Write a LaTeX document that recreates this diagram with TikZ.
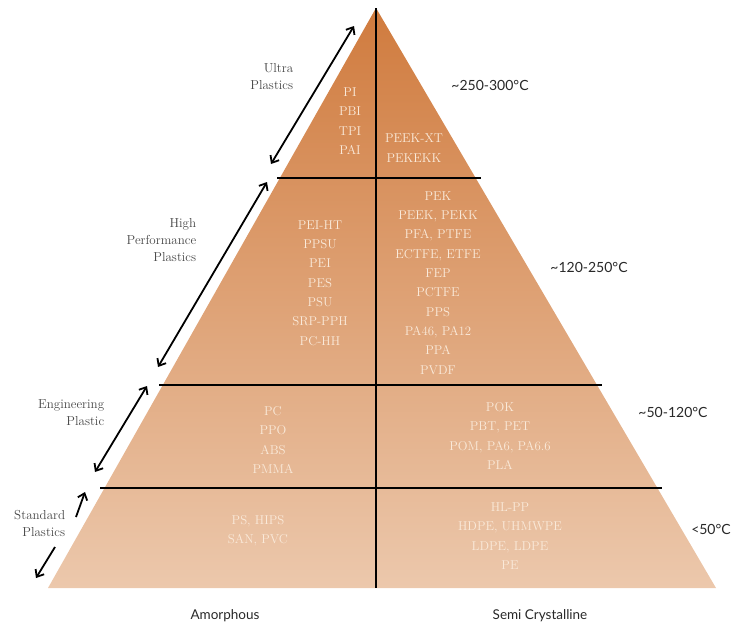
\documentclass[tikz,border=0pt]{standalone}
\usepackage{fontspec}
\newfontfamily\latofont{Lato}
\usepackage{tikz}
\usetikzlibrary{arrows.meta}

\definecolor{pyrtop}{RGB}{208,123,62}
\definecolor{pyrbot}{RGB}{236,200,172}
\definecolor{polytext}{RGB}{250,234,218}
\definecolor{classtext}{RGB}{70,70,70}
\definecolor{temptext}{RGB}{40,40,40}

\begin{document}
\begin{tikzpicture}[x=1pt, y=-1pt, line width=1pt,
    bandline/.style={line width=2.4pt, color=black},
    spanarrow/.style={line width=1.8pt, color=black, {Straight Barb[length=6pt,width=10pt]}-{Straight Barb[length=6pt,width=10pt]}},
    halfarrow/.style={line width=1.8pt, color=black, -{Straight Barb[length=6pt,width=10pt]}},
    polylist/.style={align=center, text=polytext, font=\fontsize{12.8}{19.3}\selectfont},
    classname/.style={align=right, anchor=east, text=classtext, font=\fontsize{13}{17}\selectfont},
    templabel/.style={text=temptext, font=\latofont\fontsize{14}{15}\selectfont},
    kindlabel/.style={text=temptext, font=\latofont\fontsize{13.5}{15}\selectfont}]
    \useasboundingbox (0, 0) rectangle (731, 624);

    % draw shaded pyramid
    \shade[top color=pyrtop, bottom color=pyrbot] (376, 8) -- (716, 588) -- (48, 588) -- cycle;

    % draw band lines and middle line
    \draw[bandline] (376, 8) -- (376, 588);
    \draw[bandline] (277, 178) -- (481, 178);
    \draw[bandline] (159, 385) -- (602, 385);
    \draw[bandline] (100, 488) -- (662, 488);

    % polymers, amorphous side
    \node[polylist] (ultraAm) at (350, 121) {PI\\PBI\\TPI\\PAI};
    \node[polylist] (highAm) at (320, 283) {PEI-HT\\PPSU\\PEI\\PES\\PSU\\SRP-PPH\\PC-HH};
    \node[polylist] (engAm) at (273, 440) {PC\\PPO\\ABS\\PMMA};
    \node[polylist] (stdAm) at (258, 531) {PS, HIPS\\SAN, PVC};

    % polymers, semi crystalline side
    \node[polylist] (ultraSc) at (414, 148) {PEEK-XT\\PEKEKK};
    \node[polylist] (highSc) at (438, 283) {PEK\\PEEK, PEKK\\PFA, PTFE\\ECTFE, ETFE\\FEP\\PCTFE\\PPS\\PA46, PA12\\PPA\\PVDF};
    \node[polylist] (engSc) at (500, 436) {POK\\PBT, PET\\POM, PA6, PA6.6\\PLA};
    \node[polylist] (stdSc) at (510, 536) {HL-PP\\HDPE, UHMWPE\\LDPE, LDPE\\PE};

    % class names
    \node[classname] (ultraName) at (297, 77) {Ultra\\Plastics};
    \node[classname] (highName) at (200, 240) {High\\Performance\\Plastics};
    \node[classname] (engName) at (108, 413) {Engineering\\Plastic};
    \node[classname] (stdName) at (69, 523) {Standard\\Plastics};

    % draw range arrows
    \coordinate (ultraLo) at (271, 164);
    \coordinate (ultraHi) at (354, 26);
    \coordinate (highLo) at (158, 367);
    \coordinate (highHi) at (267, 182);
    \coordinate (engLo) at (95, 472);
    \coordinate (engHi) at (147, 386);
    \coordinate (stdUp) at (76, 517);
    \coordinate (stdHi) at (85, 492);
    \coordinate (stdDown) at (55, 547);
    \coordinate (stdLo) at (36, 578);
    \draw[spanarrow] (ultraLo) -- (ultraHi);
    \draw[spanarrow] (highLo) -- (highHi);
    \draw[spanarrow] (engLo) -- (engHi);
    \draw[halfarrow] (stdUp) -- (stdHi);
    \draw[halfarrow] (stdDown) -- (stdLo);

    % temperatures
    \node[templabel] (ultraTemp) at (490, 85) {\textasciitilde250-300°C};
    \node[templabel] (highTemp) at (589, 267) {\textasciitilde120-250°C};
    \node[templabel] (engTemp) at (673, 412) {\textasciitilde50-120°C};
    \node[templabel] (stdTemp) at (711, 529) {<50°C};

    % column names
    \node[kindlabel] (amName) at (225, 616) {Amorphous};
    \node[kindlabel] (scName) at (540, 616) {Semi Crystalline};
\end{tikzpicture}
\end{document}
